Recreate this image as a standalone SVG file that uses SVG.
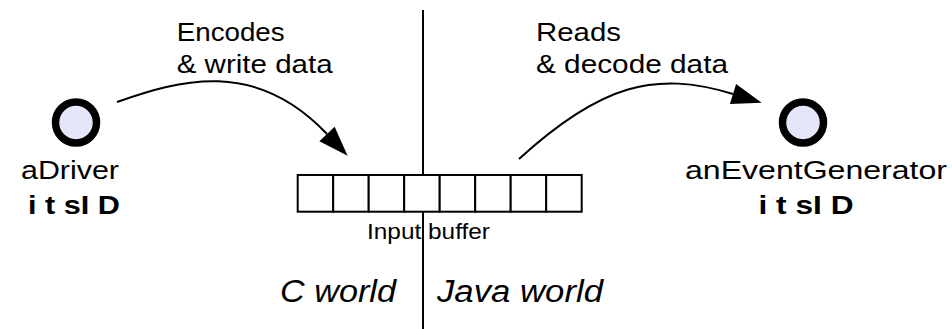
<svg xmlns="http://www.w3.org/2000/svg" width="952" height="329" viewBox="0 0 952 329">
<defs>
<style>
text{font-family:"Liberation Sans",Arial,sans-serif;fill:#000}
.lbl{font-size:26px}
.id{font-size:26px;font-weight:bold}
.world{font-size:31px;font-style:italic}
.buf{font-size:22.5px}
.obj{fill:#e6e6fa;stroke:#000;stroke-width:7.5}
.cell{fill:#fff;stroke:#000;stroke-width:2}
.conn{fill:none;stroke:#000;stroke-width:2}
</style>
<marker id="arr" markerUnits="userSpaceOnUse" markerWidth="32" markerHeight="22" refX="0" refY="10.5" orient="auto" overflow="visible">
<path d="M0,0 L30,10.5 L0,21 z" fill="#000"/>
</marker>
</defs>
<rect width="952" height="329" fill="#fff"/>
<g id="worlds">
<text class="world" x="280" y="302" textLength="116" lengthAdjust="spacingAndGlyphs">C world</text>
<text class="world" x="437" y="302" textLength="166" lengthAdjust="spacingAndGlyphs">Java world</text>
</g>
<g id="buffer-label">
<text class="buf" x="367" y="239" textLength="123" lengthAdjust="spacingAndGlyphs">Input buffer</text>
</g>
<line id="divider" x1="423" y1="10" x2="423" y2="329" stroke="#000" stroke-width="2"/>
<g id="buffer">
<rect class="cell" x="297.7" y="175" width="35.5" height="36.7"/>
<rect class="cell" x="333.2" y="175" width="35.5" height="36.7"/>
<rect class="cell" x="368.7" y="175" width="35.5" height="36.7"/>
<rect class="cell" x="404.2" y="175" width="35.5" height="36.7"/>
<rect class="cell" x="439.7" y="175" width="35.5" height="36.7"/>
<rect class="cell" x="475.2" y="175" width="35.5" height="36.7"/>
<rect class="cell" x="510.7" y="175" width="35.5" height="36.7"/>
<rect class="cell" x="546.2" y="175" width="35.5" height="36.7"/>
</g>
<g id="aDriver">
<circle class="obj" cx="76" cy="122.5" r="20.5"/>
<text class="lbl" x="21" y="178.5" textLength="98" lengthAdjust="spacingAndGlyphs">aDriver</text>
<text class="id" x="28" y="214" textLength="92" lengthAdjust="spacingAndGlyphs">i t sI D</text>
</g>
<g id="anEventGenerator">
<circle class="obj" cx="803" cy="122.5" r="20.5"/>
<text class="lbl" x="685" y="179.3" textLength="262" lengthAdjust="spacingAndGlyphs">anEventGenerator</text>
<text class="id" x="758.5" y="214" textLength="95" lengthAdjust="spacingAndGlyphs">i t sI D</text>
</g>
<g id="connectors">
<path class="conn" d="M117,102 C180,80 255,58 327,134" marker-end="url(#arr)"/>
<path class="conn" d="M519,159 C600,85 655,70 733,94" marker-end="url(#arr)"/>
</g>
<g id="connector-labels">
<text class="lbl" x="176.7" y="40.5" textLength="108" lengthAdjust="spacingAndGlyphs">Encodes</text>
<text class="lbl" x="176.7" y="72.5" textLength="156" lengthAdjust="spacingAndGlyphs">&amp; write data</text>
<text class="lbl" x="536" y="40.5" textLength="85" lengthAdjust="spacingAndGlyphs">Reads</text>
<text class="lbl" x="536" y="72.5" textLength="192" lengthAdjust="spacingAndGlyphs">&amp; decode data</text>
</g>
</svg>
